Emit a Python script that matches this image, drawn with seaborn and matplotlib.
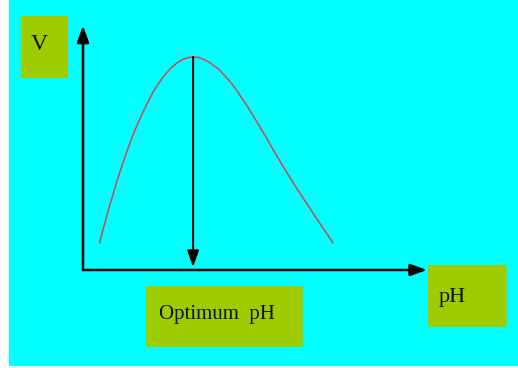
import matplotlib
matplotlib.use("Agg")
import matplotlib.pyplot as plt
from matplotlib.patches import Rectangle
import seaborn as sns

# --- dados (pH x velocidade, unidades arbitrárias) ---
ph_values = [0.55, 0.70, 0.83, 1.00, 1.13, 1.30, 1.50, 1.73, 1.97, 2.17,
             2.33, 2.53, 2.73, 2.93, 3.13, 3.33, 3.50, 3.67,
             3.87, 4.07, 4.23, 4.50, 4.80, 5.03, 5.23, 5.50, 5.80, 6.07,
             6.33, 6.60, 6.90, 7.17, 7.47, 7.73, 8.00, 8.17, 8.33]
v_values = [0.90, 1.47, 1.95, 2.52, 2.96, 3.48, 4.06, 4.66, 5.20, 5.61,
            5.92, 6.24, 6.51, 6.73, 6.90, 7.02, 7.08, 7.10,
            7.08, 7.00, 6.91, 6.71, 6.40, 6.12, 5.83, 5.42, 4.93, 4.48,
            4.02, 3.57, 3.08, 2.65, 2.20, 1.80, 1.40, 1.15, 0.90]
optimum_ph = 3.67
optimum_v = 7.10
labels = ["V", "Optimum  pH", "pH"]

BG = "#00ffff"
BOX = "#9fcc00"

sns.set_style("white")
plt.rcParams["font.family"] = ["Liberation Serif", "DejaVu Serif"]

fig = plt.figure(figsize=(5.18, 3.68), dpi=100, facecolor="white")
ax = fig.add_axes([9 / 518, 2 / 368, 509 / 518, 366 / 368])
ax.set_facecolor(BG)
ax.set_xlim(-2.467, 14.5)
ax.set_ylim(-3.2, 9.0)
ax.set_xticks([])
ax.set_yticks([])
for s in ax.spines.values():
    s.set_visible(False)

# curva
sns.lineplot(x=ph_values, y=v_values, sort=False, color="#cc4a4a",
             linewidth=1.1, ax=ax)

# eixos com setas
arrow = dict(arrowstyle="-|>,head_length=1.0,head_width=0.36", color="black",
             lw=1.8, shrinkA=0, shrinkB=0, mutation_scale=10)
ax.annotate("", xy=(0, 8.15), xytext=(0, 0), arrowprops=arrow)
ax.annotate("", xy=(11.47, 0), xytext=(0, 0), arrowprops=arrow)
arrow2 = dict(arrow, lw=1.4)
ax.annotate("", xy=(optimum_ph, 0.1), xytext=(optimum_ph, optimum_v),
            arrowprops=arrow2)

# caixas dos rótulos
ax.add_patch(Rectangle((-2.067, 6.4), 1.567, 2.067, facecolor=BOX, edgecolor="none"))
ax.add_patch(Rectangle((2.1, -2.567), 5.233, 2.033, facecolor=BOX, edgecolor="none"))
ax.add_patch(Rectangle((11.5, -1.9), 2.633, 2.067, facecolor=BOX, edgecolor="none"))

ax.text(-1.45, 7.5, labels[0], ha="center", va="center", fontsize=17, color="#111111")
ax.text(2.53, -1.47, labels[1], ha="left", va="center", fontsize=15, color="#111111")
ax.text(11.87, -0.92, labels[2], ha="left", va="center", fontsize=16, color="#111111")

fig.savefig("out.png", dpi=100, facecolor=fig.get_facecolor())
